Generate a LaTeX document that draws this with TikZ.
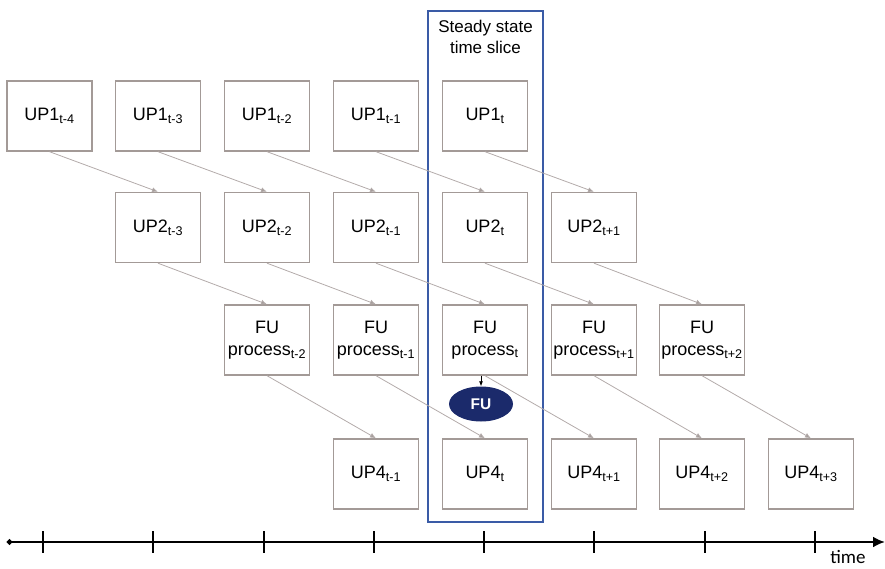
\documentclass[tikz,border=0pt]{standalone}
\usepackage{fontspec}
\setmainfont{Liberation Sans}
\newfontfamily\timefont{Carlito}
\usetikzlibrary{shapes.geometric,arrows.meta}
\definecolor{boxgray}{HTML}{A39A97}
\definecolor{linegray}{HTML}{B3ABAA}
\definecolor{sliceblue}{HTML}{3A5BA6}
\definecolor{fublue}{HTML}{1B2A6B}

\begin{document}
\begin{tikzpicture}[x=1pt, y=-1pt, >={Latex[length=6pt,width=5pt]}]
    \useasboundingbox (0,0) rectangle (885,569);

    % Estilos
    \tikzset{caja/.style={draw=boxgray, line width=1.4pt, minimum width=85pt, minimum height=70pt,
                          inner sep=0pt, align=center, font=\fontsize{18}{22}\selectfont},
             flecha/.style={draw=linegray, line width=0.8pt, ->, >={Latex[length=6pt,width=5pt,fill=boxgray]}},
             marca/.style={line width=2.6pt}}

    % --- VENTANA DE ESTADO ESTACIONARIO ---
    \draw[sliceblue, line width=2.6pt] (428,11) rectangle (543,522);
    \node[align=center, font=\fontsize{17}{21}\selectfont] (Slice) at (485.5,37) {Steady state\\time slice};

    % --- FILA 1: UP1 ---
    \node[caja] (Ua-m4) at (49.5,116) {UP1\textsubscript{t-4}};
    \node[caja] (Ua-m3) at (158,116) {UP1\textsubscript{t-3}};
    \node[caja] (Ua-m2) at (267,116) {UP1\textsubscript{t-2}};
    \node[caja] (Ua-m1) at (376,116) {UP1\textsubscript{t-1}};
    \node[caja] (Ua-t)  at (485,116) {UP1\textsubscript{t}};

    % --- FILA 2: UP2 ---
    \node[caja] (Ub-m3) at (158,227.5) {UP2\textsubscript{t-3}};
    \node[caja] (Ub-m2) at (267,227.5) {UP2\textsubscript{t-2}};
    \node[caja] (Ub-m1) at (376,227.5) {UP2\textsubscript{t-1}};
    \node[caja] (Ub-t)  at (485,227.5) {UP2\textsubscript{t}};
    \node[caja] (Ub-p1) at (594,227.5) {UP2\textsubscript{t+1}};

    % --- FILA 3: FU process ---
    \node[caja] (Fp-m2) at (267,340) {FU\\process\textsubscript{t-2}};
    \node[caja] (Fp-m1) at (376,340) {FU\\process\textsubscript{t-1}};
    \node[caja] (Fp-t)  at (485,340) {FU\\process\textsubscript{t}};
    \node[caja] (Fp-p1) at (594,340) {FU\\process\textsubscript{t+1}};
    \node[caja] (Fp-p2) at (702,340) {FU\\process\textsubscript{t+2}};

    % --- FILA 4: UP4 ---
    \node[caja] (Ud-m1) at (376,474) {UP4\textsubscript{t-1}};
    \node[caja] (Ud-t)  at (485,474) {UP4\textsubscript{t}};
    \node[caja] (Ud-p1) at (594,474) {UP4\textsubscript{t+1}};
    \node[caja] (Ud-p2) at (702,474) {UP4\textsubscript{t+2}};
    \node[caja] (Ud-p3) at (811,474) {UP4\textsubscript{t+3}};

    % Unidad funcional
    \node[ellipse, fill=fublue, minimum width=64pt, minimum height=35pt, inner sep=0pt,
          text=white, font=\fontsize{15.5}{18}\selectfont\bfseries] (FU) at (481,404) {FU};

    % --- FLECHAS ---
    \draw[flecha] (Ua-m4.south) -- (Ub-m3.north);
    \draw[flecha] (Ua-m3.south) -- (Ub-m2.north);
    \draw[flecha] (Ua-m2.south) -- (Ub-m1.north);
    \draw[flecha] (Ua-m1.south) -- (Ub-t.north);
    \draw[flecha] (Ua-t.south)  -- (Ub-p1.north);

    \draw[flecha] (Ub-m3.south) -- (Fp-m2.north);
    \draw[flecha] (Ub-m2.south) -- (Fp-m1.north);
    \draw[flecha] (Ub-m1.south) -- (Fp-t.north);
    \draw[flecha] (Ub-t.south)  -- (Fp-p1.north);
    \draw[flecha] (Ub-p1.south) -- (Fp-p2.north);

    \draw[flecha] (Fp-m2.south) -- (Ud-m1.north);
    \draw[flecha] (Fp-m1.south) -- (Ud-t.north);
    \draw[flecha] (Fp-t.south)  -- (Ud-p1.north);
    \draw[flecha] (Fp-p1.south) -- (Ud-p2.north);
    \draw[flecha] (Fp-p2.south) -- (Ud-p3.north);

    \draw[->, line width=0.8pt, >={Latex[length=5pt,width=4pt]}] (FU.north |- Fp-t.south) -- (FU.north);

    % --- EJE DEL TIEMPO ---
    \coordinate (T0) at (7,542);
    \coordinate (T1) at (885,542);
    \draw[line width=2.8pt, {Circle[length=5pt]}-{Latex[length=12pt,width=11pt]}] (T0) -- (T1);
    \draw[marca] (43,531) -- (43,553)  (153,531) -- (153,553)  (264,531) -- (264,553)
                 (374,531) -- (374,553)  (484,531) -- (484,553)  (594,531) -- (594,553)
                 (705,531) -- (705,553)  (815,531) -- (815,553);
    \node[font=\timefont\fontsize{19}{22}\selectfont, inner sep=1pt] (Time) at (848,557) {time};

\end{tikzpicture}
\end{document}
